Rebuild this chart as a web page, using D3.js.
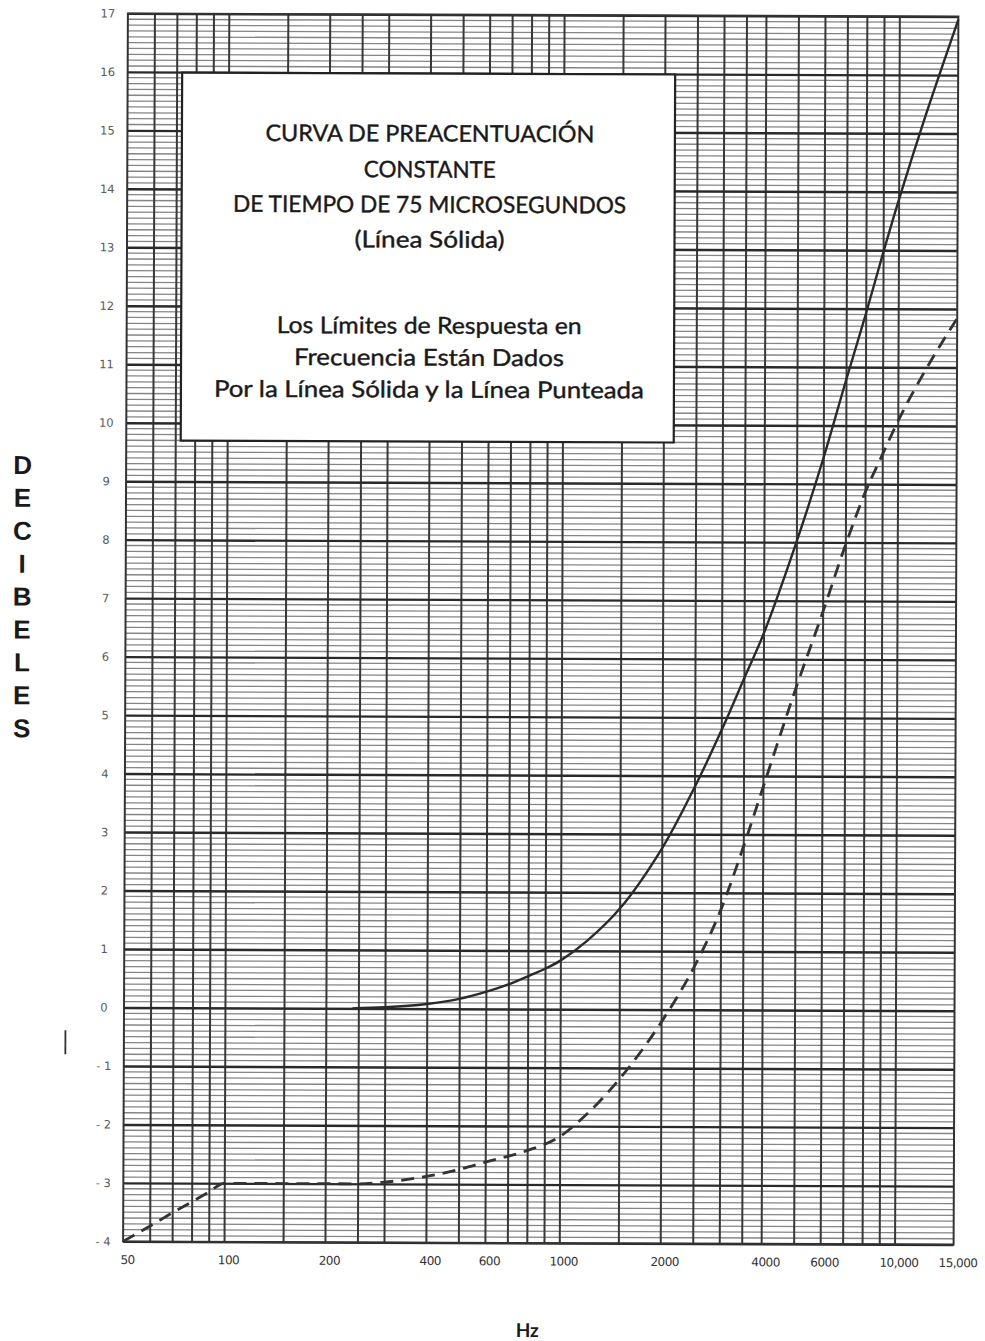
<!DOCTYPE html>
<html><head><meta charset="utf-8">
<script src="https://cdn.jsdelivr.net/npm/d3@7"></script>
<style>body{margin:0;background:#fff}</style>
</head><body>
<svg id="c" width="985" height="1341"></svg>
<script>
// ---- data ----
const freqTicks = [50,100,200,400,600,1000,2000,4000,6000,10000,15000];
const freqTickLabels = ["50","100","200","400","600","1000","2000","4000","6000","10,000","15,000"];
const gridFreqs = [60,70,80,90,100,150,200,250,300,400,500,600,700,800,900,1000,1500,2000,2500,3000,3500,4000,5000,6000,7000,8000,9000,10000];
const dbTicks = [17,16,15,14,13,12,11,10,9,8,7,6,5,4,3,2,1,0,-1,-2,-3,-4];
const dbTickLabels = ["17","16","15","14","13","12","11","10","9","8","7","6","5","4","3","2","1","0","- 1","- 2","- 3","- 4"];

const solidFreq = [240,300,400,500,600,700,800,900,1000,1200,1500,2000,2500,3000,3500,4000,5000,6000,7000,8000,9000,10000,12000,15000];
const solidDb   = [0.0,0.02,0.08,0.17,0.29,0.42,0.56,0.69,0.83,1.17,1.72,2.75,3.8,4.77,5.66,6.43,8.0,9.43,10.77,11.9,12.95,13.85,15.3,16.95];

const dashFreq = [50,60,70,80,90,100,150,200,250,300,400,500,600,800,1000,1200,1500,2000,2500,3000,3500,4000,5000,6000,7000,8000,9000,10000,12500,15000];
const dashDb   = [-4.0,-3.74,-3.51,-3.32,-3.15,-3.0,-3.0,-3.0,-3.0,-2.97,-2.87,-2.75,-2.62,-2.42,-2.18,-1.8,-1.2,-0.22,0.72,1.7,2.78,3.8,5.5,6.8,7.95,8.85,9.5,10.07,11.1,11.84];

const boxLines = ["CURVA DE PREACENTUACIÓN","CONSTANTE","DE TIEMPO DE 75 MICROSEGUNDOS","(Línea Sólida)",
                  "Los Límites de Respuesta en","Frecuencia Están Dados","Por la Línea Sólida y la Línea Punteada"];
const yLabelLetters = ["D","E","C","I","B","E","L","E","S"];
const xTitle = "Hz";

// ---- layout ----
const L = 125.5, R = 956, T = 15, B = 1243;
const svg = d3.select("#c");
const root = svg.append("g").attr("transform", "rotate(0.223 541 629)");

const x = d3.scaleLog().domain([50, 15000]).range([L, R]);
const y = d3.scaleLinear().domain([-4, 17]).range([B, T]);

// minor horizontal grid (every 0.1 dB)
const minor = d3.range(-40, 171).map(i => i / 10).filter(v => Math.abs(v - Math.round(v)) > 1e-6);
root.append("g").selectAll("line").data(minor).join("line")
  .attr("x1", L).attr("x2", R).attr("y1", d => y(d)).attr("y2", d => y(d))
  .attr("stroke", "#858585").attr("stroke-width", 1.3);

// vertical grid via axis
root.append("g").attr("transform", `translate(0,${B})`)
  .call(d3.axisBottom(x).tickValues(gridFreqs).tickSize(-(B - T)).tickFormat(""))
  .call(g => g.select(".domain").remove())
  .call(g => g.selectAll(".tick line").attr("stroke", "#383838").attr("stroke-width", 2));

// major horizontal grid
root.append("g").attr("transform", `translate(${L},0)`)
  .call(d3.axisLeft(y).tickValues(dbTicks).tickSize(-(R - L)).tickFormat(""))
  .call(g => g.select(".domain").remove())
  .call(g => g.selectAll(".tick line").attr("stroke", "#2a2a2a").attr("stroke-width", 2.4));

// frame
root.append("rect").attr("x", L).attr("y", T).attr("width", R - L).attr("height", B - T)
  .attr("fill", "none").attr("stroke", "#333").attr("stroke-width", 2);

// y tick labels
root.append("g").attr("transform", `translate(${L},0)`)
  .call(d3.axisLeft(y).tickValues(dbTicks).tickSize(0).tickPadding(16)
        .tickFormat((d, i) => dbTickLabels[i]))
  .call(g => g.select(".domain").remove())
  .call(g => g.selectAll("text").attr("font-family", "DejaVu Sans, sans-serif")
        .attr("font-size", 11.5).attr("fill", "#5a5a5a").attr("text-anchor", "middle").attr("dx", -4));

// x tick labels
root.append("g").attr("transform", `translate(0,${B})`)
  .call(d3.axisBottom(x).tickValues(freqTicks).tickSize(0).tickPadding(14)
        .tickFormat((d, i) => freqTickLabels[i]))
  .call(g => g.select(".domain").remove())
  .call(g => g.selectAll("text").attr("font-family", "DejaVu Sans, sans-serif")
        .attr("font-size", 12).attr("fill", "#333").attr("dx", 4).attr("letter-spacing", -0.5));

// curves
const dashLine = d3.line().x(d => x(d[0])).y(d => y(d[1])).curve(d3.curveMonotoneX);
const solidLine = d3.line().x(d => x(d[0])).y(d => y(d[1])).curve(d3.curveCatmullRom.alpha(0.5));
root.append("path").datum(dashFreq.map((f, i) => [f, dashDb[i]]))
  .attr("d", dashLine).attr("fill", "none").attr("stroke", "#333").attr("stroke-width", 2.8)
  .attr("stroke-dasharray", "13 8");
root.append("path").datum(solidFreq.map((f, i) => [f, solidDb[i]]))
  .attr("d", solidLine).attr("fill", "none").attr("stroke", "#2a2a2a").attr("stroke-width", 2.4);

// text box
root.append("rect").attr("x", 180).attr("y", 74).attr("width", 493).attr("height", 368)
  .attr("fill", "#fff").attr("stroke", "#222").attr("stroke-width", 2.2);
const baselines = [142, 178, 213, 248, 334, 366, 398];
const widths = [329, 132, 393, 150, 305, 270, 430];
root.append("g").selectAll("text").data(boxLines).join("text")
  .attr("x", 428).attr("y", (d, i) => baselines[i])
  .attr("text-anchor", "middle")
  .attr("font-family", "Lato, 'Open Sans', sans-serif").attr("font-size", 23)
  .attr("fill", "#1a1a1a").attr("stroke", "#1a1a1a").attr("stroke-width", 0.4)
  .attr("textLength", (d, i) => widths[i]).attr("lengthAdjust", "spacingAndGlyphs")
  .text(d => d);

// y title: stacked letters
root.append("g").selectAll("text").data(yLabelLetters).join("text")
  .attr("x", 22).attr("y", (d, i) => 476 + i * 32.9)
  .attr("text-anchor", "middle")
  .attr("font-family", "Liberation Sans, Arial, sans-serif").attr("font-weight", "bold")
  .attr("font-size", 26).attr("fill", "#1a1a1a")
  .text(d => d);

// small mark
root.append("line").attr("x1", 67).attr("x2", 67).attr("y1", 1032).attr("y2", 1056)
  .attr("stroke", "#333").attr("stroke-width", 1.8);

// x title
root.append("text").attr("x", 530).attr("y", 1337).attr("text-anchor", "middle")
  .attr("font-family", "Lato, sans-serif").attr("font-weight", "bold").attr("font-size", 19)
  .attr("fill", "#1a1a1a").text(xTitle);
</script>
</body></html>
